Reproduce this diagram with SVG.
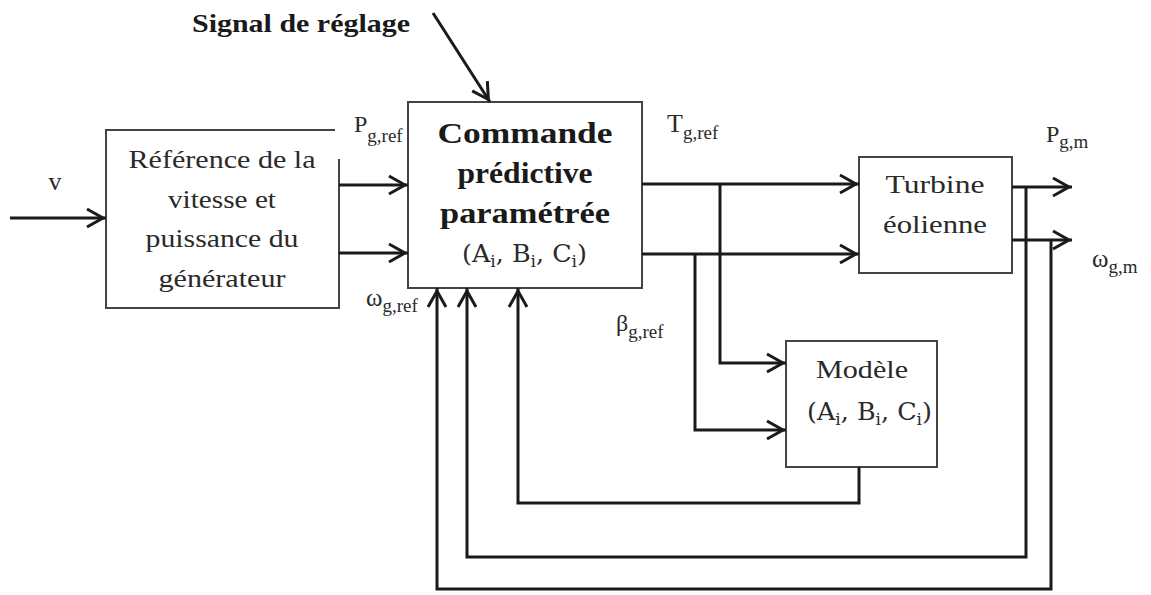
<svg xmlns="http://www.w3.org/2000/svg" width="1151" height="595" viewBox="0 0 1151 595">
<defs>
<style>
.box{fill:#fff;stroke:#444;stroke-width:2}
.t{font-family:"Liberation Serif","Times New Roman",serif;fill:#2a2a2a}
.b{font-family:"Liberation Serif","Times New Roman",serif;font-weight:bold;fill:#1a1a1a}
.m{font-family:"DejaVu Serif","Liberation Serif",serif;fill:#2a2a2a}
.w{fill:none;stroke:#1a1a1a;stroke-width:3;stroke-linejoin:miter}
</style>
<marker id="arr" viewBox="-22 -12 24 24" refX="0" refY="0" markerWidth="24" markerHeight="24" markerUnits="userSpaceOnUse" orient="auto">
<path d="M-19,-9 L-3,0 L-19,9" fill="none" stroke="#1a1a1a" stroke-width="3"/>
</marker>
</defs>
<rect width="1151" height="595" fill="#fff"/>
<g id="labels">
<text class="b" x="192" y="32" font-size="25" textLength="218" lengthAdjust="spacingAndGlyphs">Signal de réglage</text>
<text class="t" x="55" y="190" font-size="26" text-anchor="middle">v</text>
<text class="t" x="354" y="132" font-size="24">P<tspan dy="10" font-size="19">g,ref</tspan></text>
<text class="t" x="667" y="132" font-size="26">T<tspan dy="7" font-size="19">g,ref</tspan></text>
<text class="t" x="366" y="306" font-size="25">ω<tspan dy="6" font-size="19">g,ref</tspan></text>
<text class="t" x="616" y="331" font-size="24">β<tspan dy="7" font-size="19">g,ref</tspan></text>
<text class="t" x="1046" y="142" font-size="24">P<tspan dy="6" font-size="19">g,m</tspan></text>
<text class="t" x="1092" y="267" font-size="25">ω<tspan dy="6" font-size="19">g,m</tspan></text>
</g>
<g id="ref-gen">
<path d="M106,130 H335 M339,159 V308 H106 V130 Z" fill="#fff" stroke="none"/>
<path d="M106,130 H335 M339,159 V308 H106 V129" fill="none" stroke="#444" stroke-width="2"/>
<text class="t" x="222" y="168" font-size="26" text-anchor="middle" textLength="187" lengthAdjust="spacingAndGlyphs">Référence de la</text>
<text class="t" x="222" y="208" font-size="26" text-anchor="middle" textLength="108" lengthAdjust="spacingAndGlyphs">vitesse et</text>
<text class="t" x="222" y="247" font-size="26" text-anchor="middle" textLength="153" lengthAdjust="spacingAndGlyphs">puissance du</text>
<text class="t" x="222" y="287" font-size="26" text-anchor="middle" textLength="127" lengthAdjust="spacingAndGlyphs">générateur</text>
</g>
<g id="commande">
<rect class="box" x="408" y="102" width="234" height="186"/>
<text class="b" x="525" y="143" font-size="29" text-anchor="middle" textLength="175" lengthAdjust="spacingAndGlyphs">Commande</text>
<text class="b" x="525" y="183" font-size="29" text-anchor="middle" textLength="135" lengthAdjust="spacingAndGlyphs">prédictive</text>
<text class="b" x="525" y="223" font-size="29" text-anchor="middle" textLength="170" lengthAdjust="spacingAndGlyphs">paramétrée</text>
<text class="m" x="462" y="262" font-size="24" textLength="125" lengthAdjust="spacingAndGlyphs">(A<tspan dy="5" font-size="16">i</tspan><tspan dy="-5">, B</tspan><tspan dy="5" font-size="16">i</tspan><tspan dy="-5">, C</tspan><tspan dy="5" font-size="16">i</tspan><tspan dy="-5">)</tspan></text>
</g>
<g id="turbine">
<rect class="box" x="859" y="157" width="153" height="116"/>
<text class="t" x="935" y="193" font-size="26" text-anchor="middle" textLength="99" lengthAdjust="spacingAndGlyphs">Turbine</text>
<text class="t" x="935" y="233" font-size="26" text-anchor="middle" textLength="104" lengthAdjust="spacingAndGlyphs">éolienne</text>
</g>
<g id="modele">
<rect class="box" x="786" y="341" width="151" height="126"/>
<text class="t" x="862" y="378" font-size="26" text-anchor="middle" textLength="92" lengthAdjust="spacingAndGlyphs">Modèle</text>
<text class="m" x="807" y="420" font-size="24" textLength="125" lengthAdjust="spacingAndGlyphs">(A<tspan dy="5" font-size="16">i</tspan><tspan dy="-5">, B</tspan><tspan dy="5" font-size="16">i</tspan><tspan dy="-5">, C</tspan><tspan dy="5" font-size="16">i</tspan><tspan dy="-5">)</tspan></text>
</g>
<g id="connectors" class="w">
<path class="w" d="M10,218 H106" marker-end="url(#arr)"/>
<path class="w" d="M339,185 H408" marker-end="url(#arr)"/>
<path class="w" d="M339,253 H408" marker-end="url(#arr)"/>
<path class="w" d="M433,13 L490,102" marker-end="url(#arr)"/>
<path class="w" d="M642,184 H859" marker-end="url(#arr)"/>
<path class="w" d="M642,254 H859" marker-end="url(#arr)"/>
<path class="w" d="M720,184 V363 H786" marker-end="url(#arr)"/>
<path class="w" d="M695,254 V430 H786" marker-end="url(#arr)"/>
<path class="w" d="M1012,187 H1072" marker-end="url(#arr)"/>
<path class="w" d="M1012,240 H1072" marker-end="url(#arr)"/>
<path class="w" d="M859,467 V503 H518 V288" marker-end="url(#arr)"/>
<path class="w" d="M1026,187 V557 H467 V288" marker-end="url(#arr)"/>
<path class="w" d="M1051,240 V589 H437 V288" marker-end="url(#arr)"/>
</g>
</svg>
